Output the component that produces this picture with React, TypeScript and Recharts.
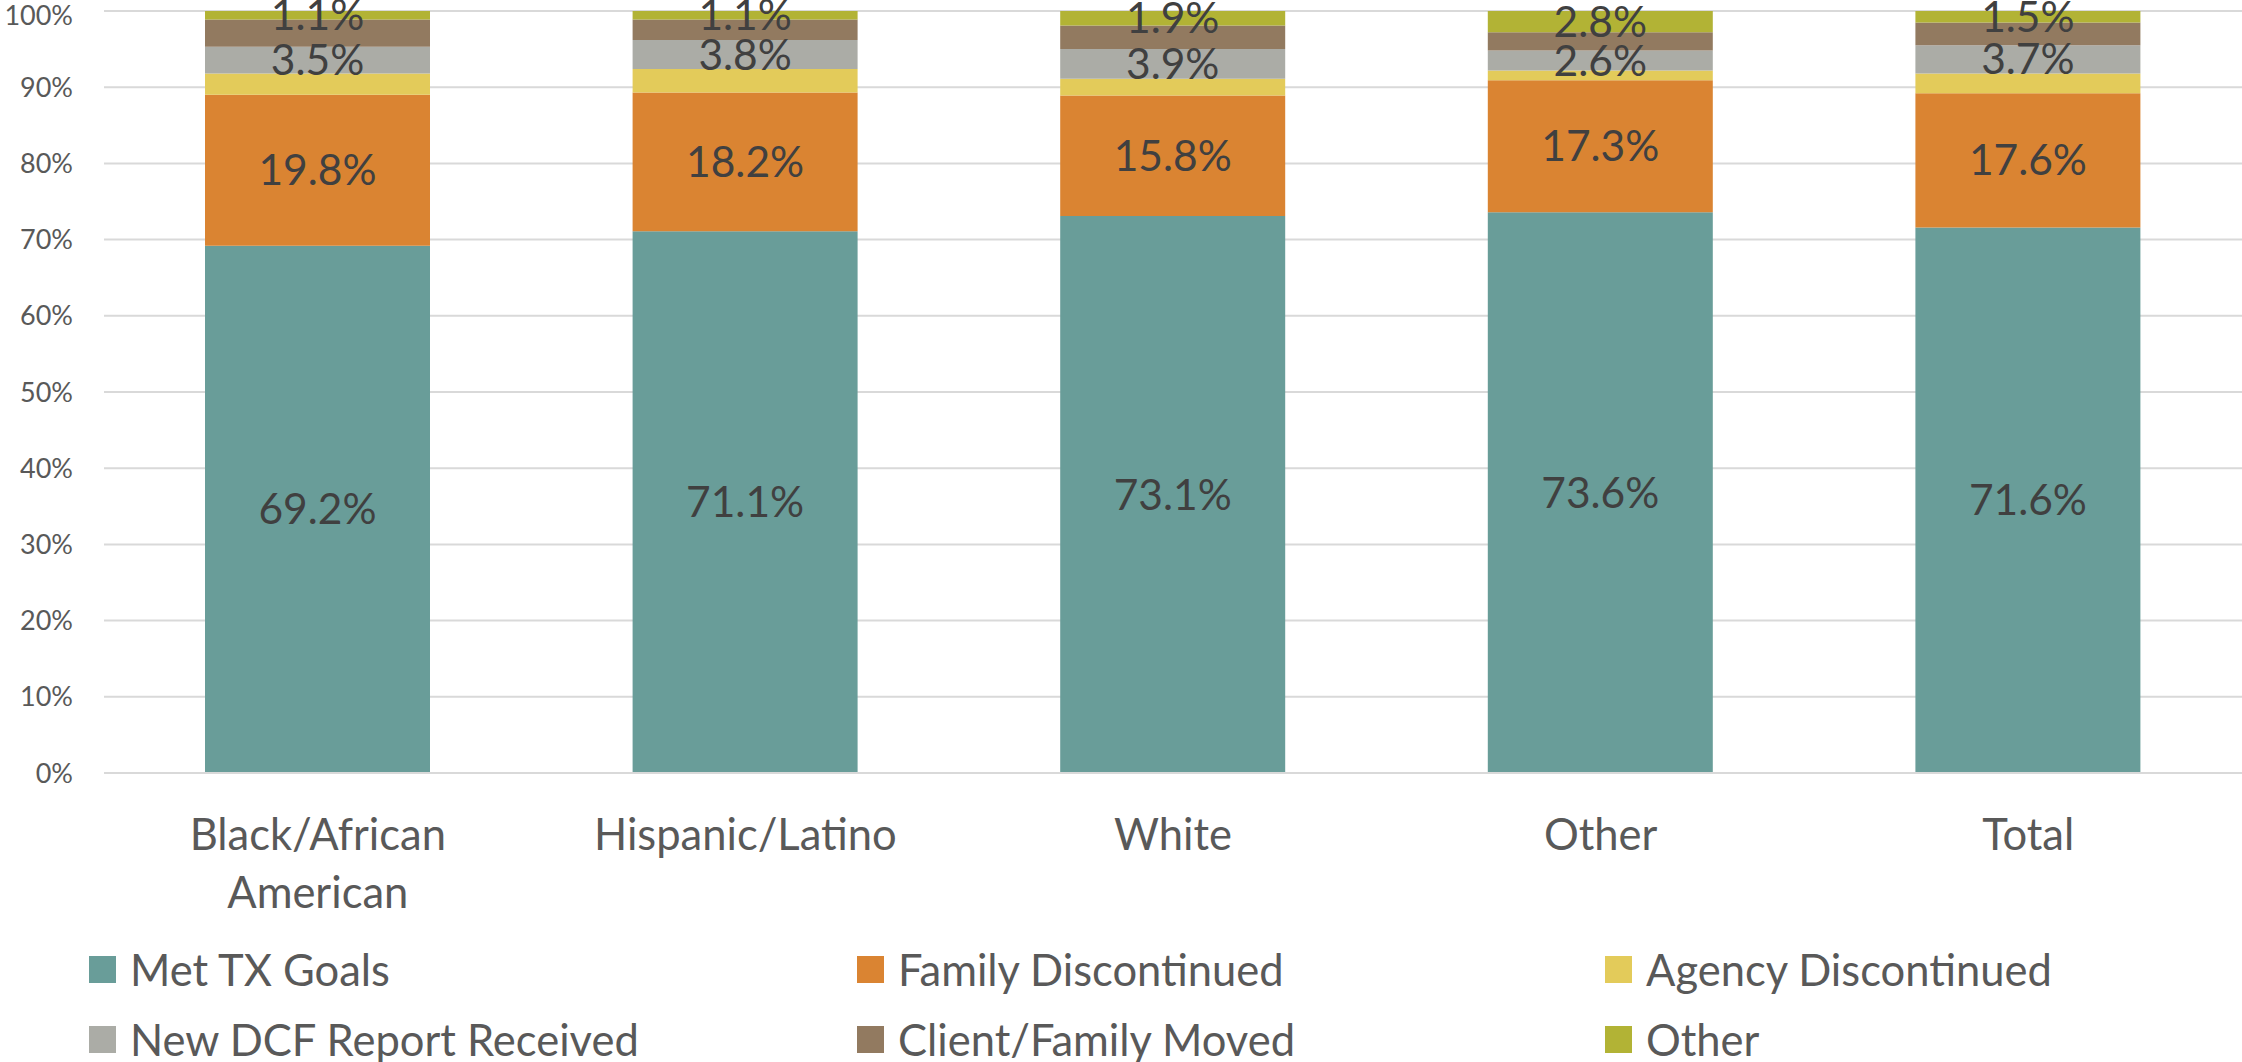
import React from 'react';
import { BarChart, Bar, XAxis, YAxis, CartesianGrid, Legend, LabelList } from 'recharts';

const categories = ['Black/African American', 'Hispanic/Latino', 'White', 'Other', 'Total'];
const tickLines: string[][] = [['Black/African', 'American'], ['Hispanic/Latino'], ['White'], ['Other'], ['Total']];
const yTicks = [0, 10, 20, 30, 40, 50, 60, 70, 80, 90, 100];

const metTX = [69.2, 71.1, 73.1, 73.6, 71.6];
const familyDisc = [19.8, 18.2, 15.8, 17.3, 17.6];
const agencyDisc = [2.8, 3.1, 2.2, 1.3, 2.6];
const newDCF = [3.5, 3.8, 3.9, 2.6, 3.7];
const moved = [3.6, 2.7, 3.1, 2.4, 3.0];
const otherReason = [1.1, 1.1, 1.9, 2.8, 1.5];

const seriesDefs = [
  { key: 'met', name: 'Met TX Goals', color: '#699D99', values: metTX, label: true },
  { key: 'family', name: 'Family Discontinued', color: '#DA8432', values: familyDisc, label: true },
  { key: 'agency', name: 'Agency Discontinued', color: '#E3CB5A', values: agencyDisc, label: false },
  { key: 'dcf', name: 'New DCF Report Received', color: '#ABACA6', values: newDCF, label: true },
  { key: 'moved', name: 'Client/Family Moved', color: '#927A60', values: moved, label: false },
  { key: 'other', name: 'Other', color: '#B2B335', values: otherReason, label: true },
];

const data = categories.map((c, i) => {
  const row: any = { category: c, idx: i };
  seriesDefs.forEach((s) => {
    row[s.key] = s.values[i];
  });
  return row;
});

const FONT = 'Lato, "Open Sans", sans-serif';

const XTick = (props: any) => {
  const { x, y, payload } = props;
  const lines = tickLines[payload.index] || [String(payload.value)];
  return (
    <text x={x} y={y} textAnchor="middle" fill="#595959" fontFamily={FONT} fontSize={43.5}>
      {lines.map((l, i) => (
        <tspan key={i} x={x} y={y + 77 + i * 58}>
          {l}
        </tspan>
      ))}
    </text>
  );
};

const legendCols = [89, 857, 1605];

const LegendContent = () => (
  <div style={{ position: 'relative', width: 2242, height: 160 }}>
    {seriesDefs.map((s, i) => {
      const col = i % 3;
      const row = Math.floor(i / 3);
      const cy = 67 + row * 70;
      return (
        <div
          key={s.key}
          style={{
            position: 'absolute',
            left: legendCols[col],
            top: cy - 30,
            height: 60,
            display: 'flex',
            alignItems: 'center',
            whiteSpace: 'nowrap',
          }}
        >
          <div style={{ width: 27, height: 27, background: s.color, marginRight: 14 }} />
          <span style={{ fontFamily: FONT, fontSize: 43.5, color: '#595959', lineHeight: '60px' }}>{s.name}</span>
        </div>
      );
    })}
  </div>
);

export default function App() {
  return (
    <div style={{ position: 'absolute', left: 0, top: 0, width: 2242, height: 1062, background: '#fff' }}>
      <BarChart
        width={2242}
        height={1062}
        data={data}
        margin={{ top: 11, right: 0, left: 0, bottom: 0 }}
      >
        <CartesianGrid vertical={false} stroke="#D9D9D9" strokeWidth={2} />
        <XAxis
          dataKey="category"
          height={129}
          tickLine={false}
          tickSize={0}
          tickMargin={0}
          axisLine={{ stroke: '#D9D9D9', strokeWidth: 2 }}
          tick={<XTick />}
          interval={0}
        />
        <YAxis
          width={104}
          domain={[0, 100]}
          ticks={yTicks}
          axisLine={false}
          tickLine={false}
          tickSize={0}
          tickMargin={31}
          tickFormatter={(v: number) => `${v}%`}
          tick={{ fill: '#595959', fontFamily: FONT, fontSize: 27 }}
        />
        <Legend
          verticalAlign="bottom"
          content={<LegendContent />}
          wrapperStyle={{ position: 'absolute', left: 0, top: 902, width: 2242, height: 160 }}
        />
        {seriesDefs.map((s) => (
          <Bar
            key={s.key}
            dataKey={s.key}
            name={s.name}
            stackId="a"
            fill={s.color}
            barSize={225}
            isAnimationActive={false}
          >
            {s.label ? (
              <LabelList
                dataKey={s.key}
                position="center"
                formatter={(v: any) => `${Number(v).toFixed(1)}%`}
                fill="#404040"
                fontFamily={FONT}
                fontSize={42.5}
              />
            ) : null}
          </Bar>
        ))}
      </BarChart>
    </div>
  );
}
